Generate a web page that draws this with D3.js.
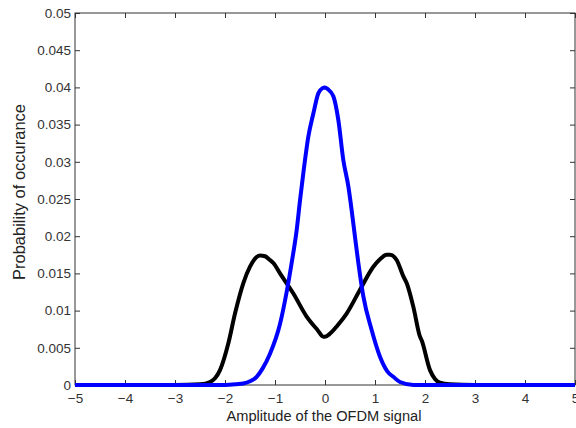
<!DOCTYPE html>
<html><head><meta charset="utf-8">
<script src="https://cdnjs.cloudflare.com/ajax/libs/d3/7.8.5/d3.min.js"></script>
<style>body{margin:0;background:#fff}svg{display:block;font-family:"Liberation Sans",Arial,sans-serif}</style>
</head><body><svg id="c" width="576" height="428"></svg>
<script>
const xTicks = [-5,-4,-3,-2,-1,0,1,2,3,4,5];
const yTicks = [0,0.005,0.01,0.015,0.02,0.025,0.03,0.035,0.04,0.045,0.05];
const yTickLabels = ["0","0.005","0.01","0.015","0.02","0.025","0.03","0.035","0.04","0.045","0.05"];
const blueX = [-5,-3,-2,-1.77,-1.633,-1.5,-1.367,-1.25,-1.1,-0.9,-0.767,-0.667,-0.567,-0.5,-0.433,-0.333,-0.233,-0.133,-0.05,0,0.05,0.167,0.267,0.367,0.467,0.533,0.6,0.667,0.767,0.933,1.1,1.25,1.367,1.5,1.77,2,3,5];
const blueY = [0,0,0,0.0001,0.0002,0.0005,0.0011,0.0022,0.0042,0.0082,0.0125,0.0164,0.0208,0.0248,0.0285,0.0334,0.0365,0.0392,0.0399,0.0400,0.0398,0.0388,0.0356,0.0302,0.0267,0.0235,0.0199,0.0164,0.0119,0.0074,0.0038,0.0018,0.0011,0.0004,0,0,0,0];
const blackX = [-5,-3,-2.5,-2.3,-2.2,-2.1,-1.933,-1.8,-1.633,-1.5,-1.367,-1.3,-1.2,-1.1,-1.033,-0.9,-0.633,-0.367,-0.15,-0.033,0,0.1,0.25,0.433,0.7,0.967,1.1,1.233,1.3,1.433,1.567,1.633,1.767,1.9,1.933,2.1,2.2,2.3,2.5,3,5];
const blackY = [0,0,0.0001,0.0004,0.0009,0.002,0.0056,0.0096,0.0137,0.0159,0.0172,0.0174,0.0173,0.0168,0.0164,0.0150,0.0123,0.0092,0.0074,0.0065,0.0065,0.0069,0.008,0.0096,0.0128,0.0159,0.0169,0.0175,0.0175,0.0168,0.0146,0.0137,0.0105,0.0065,0.006,0.002,0.0008,0.0003,0.0001,0,0];

const svg = d3.select("#c");
const L=75, R=575, T=13, B=385;
const x = d3.scaleLinear().domain([-5,5]).range([L,R]);
const y = d3.scaleLinear().domain([0,0.05]).range([B,T]);
const axCol="#333";
const FS="13.5px";

function styleAxis(g){
  g.select(".domain").remove();
  g.selectAll("line").attr("stroke",axCol);
  g.selectAll("text").attr("fill","#333").attr("font-size",FS).attr("font-family","Liberation Sans, Arial, sans-serif");
}
svg.append("g").attr("transform",`translate(0,${B})`)
  .call(d3.axisBottom(x).tickValues(xTicks).tickSizeInner(-5).tickSizeOuter(0).tickPadding(8).tickFormat(d3.format("d")))
  .call(styleAxis);
svg.append("g").attr("transform",`translate(0,${T})`)
  .call(d3.axisTop(x).tickValues(xTicks).tickSizeInner(-5).tickSizeOuter(0).tickFormat(""))
  .call(styleAxis);
svg.append("g").attr("transform",`translate(${L},0)`)
  .call(d3.axisLeft(y).tickValues(yTicks).tickSizeInner(-5).tickSizeOuter(0).tickPadding(4).tickFormat((d,i)=>yTickLabels[i]))
  .call(styleAxis);
svg.append("g").attr("transform",`translate(${R},0)`)
  .call(d3.axisRight(y).tickValues(yTicks).tickSizeInner(-5).tickSizeOuter(0).tickFormat(""))
  .call(styleAxis);
svg.append("rect").attr("x",L).attr("y",T).attr("width",R-L).attr("height",B-T)
  .attr("fill","none").attr("stroke",axCol).attr("stroke-width",1);

const line = d3.line().x(d=>x(d[0])).y(d=>y(d[1])).curve(d3.curveMonotoneX);
svg.append("path").datum(blackX.map((v,i)=>[v,blackY[i]]))
  .attr("d",line).attr("fill","none").attr("stroke","#000").attr("stroke-width",4).attr("stroke-linejoin","round");
svg.append("path").datum(blueX.map((v,i)=>[v,blueY[i]]))
  .attr("d",line).attr("fill","none").attr("stroke","#0000ff").attr("stroke-width",4).attr("stroke-linejoin","round");

function fitText(t, target){
  const w = t.node().getComputedTextLength();
  const fs = parseFloat(t.attr("font-size"));
  t.attr("font-size", (fs*target/w).toFixed(2)+"px");
}
const xl = svg.append("text").attr("x",324).attr("y",421).attr("text-anchor","middle")
  .attr("font-size","14px").attr("fill","#222").text("Amplitude of the OFDM signal");
fitText(xl,195);
const yl = svg.append("text").attr("transform",`translate(25,192) rotate(-90)`).attr("text-anchor","middle")
  .attr("font-size","14px").attr("fill","#222").text("Probability of occurance");
fitText(yl,176);
</script></body></html>
